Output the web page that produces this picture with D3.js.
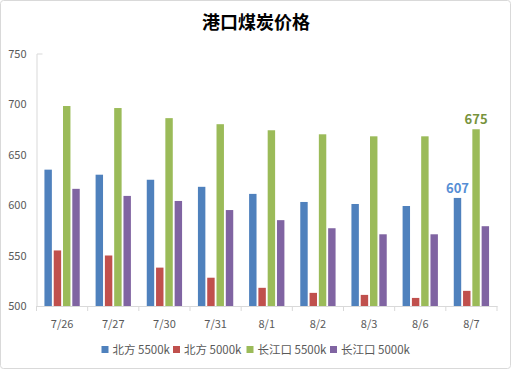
<!DOCTYPE html>
<html>
<head>
<meta charset="utf-8">
<script src="https://cdn.jsdelivr.net/npm/d3@7"></script>
<style>
  body { margin: 0; background: #fff; }
  svg text { font-family: "Noto Sans CJK SC", "Liberation Sans", sans-serif; }
</style>
</head>
<body>
<svg id="chart" width="512" height="370"></svg>
<script>
const dates = ["7/26", "7/27", "7/30", "7/31", "8/1", "8/2", "8/3", "8/6", "8/7"];
const seriesNames = ["北方 5500k", "北方 5000k", "长江口 5500k", "长江口 5000k"];
const north5500 = [635, 630, 625, 618, 611, 603, 601, 599, 607];
const north5000 = [555, 550, 538, 528, 518, 513, 511, 508, 515];
const yangtze5500 = [698, 696, 686, 680, 674, 670, 668, 668, 675];
const yangtze5000 = [616, 609, 604, 595, 585, 577, 571, 571, 579];
const yTicks = [500, 550, 600, 650, 700, 750];
const colors = ["#4F81BD", "#C0504D", "#9BBB59", "#8064A2"];

const allSeries = [north5500, north5000, yangtze5500, yangtze5000];

const svg = d3.select("#chart");

// outer frame
svg.append("rect")
    .attr("x", 0.5).attr("y", 0.5)
    .attr("width", 510).attr("height", 368)
    .attr("rx", 3)
    .attr("fill", "#fff")
    .attr("stroke", "#d9d9d9");

svg.append("text")
    .attr("x", 256).attr("y", 29)
    .attr("text-anchor", "middle")
    .attr("font-size", 18)
    .attr("font-weight", "bold")
    .attr("fill", "#000")
    .text("港口煤炭价格");

const plotLeft = 36.5, plotRight = 497, plotTop = 53.5, plotBottom = 306;

const x0 = d3.scaleBand()
    .domain(dates)
    .range([plotLeft, plotRight])
    .paddingInner(0.31)
    .paddingOuter(0.155);

const x1 = d3.scaleBand()
    .domain(d3.range(4))
    .range([0, x0.bandwidth()])
    .paddingInner(0.2);

const y = d3.scaleLinear()
    .domain([500, 750])
    .range([plotBottom, plotTop]);

// bars
const groups = svg.append("g")
    .selectAll("g")
    .data(dates)
    .join("g")
    .attr("transform", d => `translate(${x0(d)},0)`);

groups.selectAll("rect")
    .data((d, i) => allSeries.map((s, k) => ({ k: k, v: s[i] })))
    .join("rect")
    .attr("x", d => x1(d.k))
    .attr("width", x1.bandwidth())
    .attr("y", d => y(d.v))
    .attr("height", d => y(500) - y(d.v))
    .attr("fill", d => colors[d.k]);

// Y axis
const yAxis = svg.append("g")
    .attr("transform", `translate(${plotLeft},0)`)
    .call(d3.axisLeft(y).tickValues(yTicks).tickSizeInner(0).tickSizeOuter(-6).tickPadding(10));
yAxis.select(".domain").attr("stroke", "#d9d9d9");
yAxis.selectAll("text").attr("font-size", 11).attr("fill", "#595959");

// X axis
const xAxis = svg.append("g")
    .attr("transform", `translate(0,${plotBottom})`)
    .call(d3.axisBottom(x0).tickSize(0).tickPadding(14));
xAxis.select(".domain").attr("stroke", "#d9d9d9");
xAxis.selectAll("text").attr("font-size", 11).attr("fill", "#595959");

// category boundary ticks
const step = x0.step();
const boundaries = dates.map(d => x0(d) - step * x0.paddingInner() / 2).concat([plotRight]);
xAxis.selectAll(".bound")
    .data(boundaries)
    .join("line")
    .attr("class", "bound")
    .attr("x1", d => d).attr("x2", d => d)
    .attr("y1", 0).attr("y2", 5)
    .attr("stroke", "#d9d9d9");

// data labels on last category
const last = dates.length - 1;
const labelColors = { 0: "#558ED5", 2: "#77933C" };
[0, 2].forEach(k => {
    svg.append("text")
        .attr("x", x0(dates[last]) + x1(k) + x1.bandwidth() / 2)
        .attr("y", y(allSeries[k][last]) - 5)
        .attr("text-anchor", "middle")
        .attr("font-size", 13)
        .attr("font-weight", "bold")
        .attr("fill", labelColors[k])
        .text(allSeries[k][last]);
});

// legend
const legendX = [101.5, 173, 246.5, 330];
const legend = svg.append("g")
    .selectAll("g")
    .data(seriesNames)
    .join("g")
    .attr("transform", (d, i) => `translate(${legendX[i]},346)`);

legend.append("rect")
    .attr("width", 7).attr("height", 7)
    .attr("fill", (d, i) => colors[i]);

legend.append("text")
    .attr("x", 11).attr("y", 8)
    .attr("font-size", 11.5)
    .attr("fill", "#595959")
    .text(d => d);
</script>
</body>
</html>
